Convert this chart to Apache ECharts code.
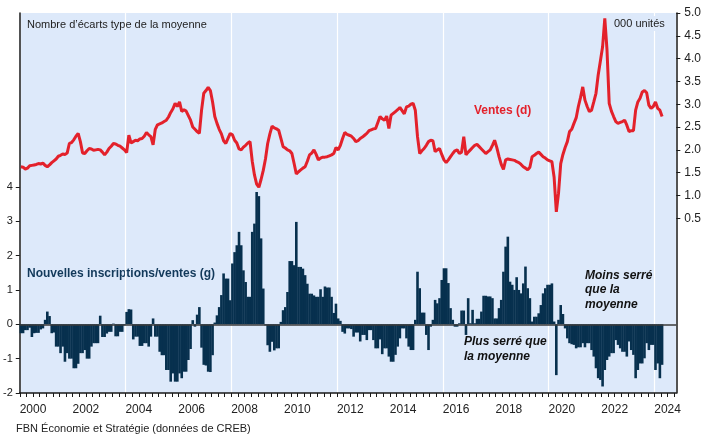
<!DOCTYPE html>
<html><head><meta charset="utf-8">
<script src="https://cdn.jsdelivr.net/npm/echarts@6/dist/echarts.min.js"></script>
<style>html,body{margin:0;padding:0;background:#fff}#c{width:704px;height:437px}</style>
</head><body><div id="c"></div>
<script>
// Monthly data, Jan 2000 - Apr 2024
const startYear = 2000;
const ventes = [
1.63,1.62,1.58,1.60,1.65,1.66,1.67,1.68,1.70,1.69,1.71,1.66,
1.63,1.67,1.72,1.76,1.80,1.86,1.88,1.91,1.90,1.93,2.14,2.16,
2.22,2.30,2.36,2.18,1.93,1.92,1.98,2.03,2.02,1.99,2.00,2.01,
2.00,1.95,1.89,1.95,2.03,2.08,2.14,2.13,2.10,2.08,2.04,2.00,
1.94,2.32,2.15,2.18,2.21,2.20,2.24,2.25,2.30,2.38,2.33,2.29,
2.11,2.45,2.55,2.57,2.59,2.62,2.65,2.72,2.82,2.90,3.02,2.95,
3.05,2.84,2.88,2.85,2.75,2.65,2.50,2.45,2.40,2.36,2.87,3.24,
3.30,3.37,3.30,3.05,2.73,2.58,2.45,2.35,2.20,2.14,2.25,2.36,
2.33,2.21,2.15,2.02,2.00,2.06,2.10,2.15,2.18,1.75,1.45,1.25,
1.18,1.35,1.55,1.80,2.14,2.35,2.52,2.48,2.46,2.43,2.25,2.07,
2.04,2.00,1.98,1.92,1.70,1.47,1.52,1.56,1.60,1.63,1.75,1.89,
1.93,2.00,1.90,1.78,1.82,1.84,1.84,1.85,1.87,1.89,1.92,2.05,
2.00,2.10,2.25,2.38,2.34,2.32,2.30,2.25,2.18,2.20,2.25,2.28,
2.32,2.36,2.42,2.44,2.46,2.47,2.60,2.73,2.68,2.65,2.74,2.47,
2.76,2.80,2.84,2.88,2.93,2.86,2.79,2.94,2.96,3.00,3.02,2.87,
2.29,1.92,1.98,2.03,2.10,2.18,2.21,2.20,1.96,2.00,2.03,1.90,
1.78,1.72,1.78,1.85,1.92,1.98,2.00,1.92,1.95,2.29,1.89,1.95,
2.00,2.05,2.10,2.12,2.07,2.02,1.97,1.92,1.96,2.00,2.10,2.21,
2.05,1.85,1.68,1.57,1.78,1.80,1.79,1.78,1.77,1.74,1.72,1.68,
1.63,1.60,1.56,1.62,1.85,1.88,1.92,1.95,1.90,1.85,1.82,1.78,
1.76,1.74,1.40,0.64,1.05,1.70,1.90,2.05,2.18,2.40,2.45,2.58,
2.70,2.95,3.15,3.38,3.09,2.95,2.84,2.87,3.05,3.24,3.64,3.95,
4.26,4.88,4.19,3.02,2.85,2.73,2.62,2.58,2.60,2.62,2.65,2.54,
2.40,2.42,2.42,2.87,3.05,3.13,3.27,3.30,3.25,2.98,2.91,2.95,
3.05,2.91,2.87,2.73
];
const ratio = [
-0.26,-0.26,-0.17,-0.17,-0.10,-0.37,-0.26,-0.25,-0.25,-0.15,-0.12,0.13,
0.37,0.24,-0.26,-0.24,-0.65,-0.65,-0.84,-0.65,-1.09,-0.84,-1.00,-1.00,
-1.28,-1.28,-1.15,-0.84,-0.84,-0.75,-1.00,-1.00,-0.65,-0.55,-0.55,-0.55,
0.25,-0.37,-0.37,-0.27,-0.22,-0.22,0.02,-0.35,-0.35,-0.22,-0.22,-0.03,
0.36,0.44,0.43,-0.44,-0.36,-0.36,-0.63,-0.63,-0.55,-0.55,-0.65,-0.36,
0.17,-0.36,-0.36,-0.80,-0.90,-0.90,-1.33,-1.33,-1.67,-1.43,-1.67,-1.67,
-1.43,-1.57,-1.38,-1.38,-1.04,-0.72,0.12,-0.07,0.28,0.50,-0.68,-1.18,
-1.20,-1.38,-1.39,-0.90,0.05,0.26,0.50,0.85,1.48,1.33,1.33,0.70,
1.77,2.10,2.30,2.69,2.30,1.57,1.23,0.80,0.80,2.69,2.93,3.85,
3.73,2.50,1.04,-0.03,-0.61,-0.80,-0.51,-0.76,-0.70,-0.70,0.07,0.41,
0.50,0.94,1.84,1.84,1.72,2.98,1.67,1.67,1.62,1.43,1.18,0.89,
0.89,0.84,0.80,0.80,1.02,0.80,1.10,1.07,1.07,0.80,0.33,0.60,
0.17,0.10,-0.22,-0.27,-0.12,-0.12,-0.14,-0.36,-0.24,-0.24,-0.50,-0.31,
-0.31,-0.46,-0.17,-0.17,-0.46,-0.70,-0.70,-0.44,-0.87,-0.70,-0.70,-0.94,
-1.09,-1.09,-0.89,-0.65,-0.41,-0.12,-0.12,-0.41,-0.65,-0.75,-0.75,0.13,
1.53,1.05,0.34,0.34,-0.31,-0.75,-0.07,0.13,0.71,0.61,0.76,1.29,
1.63,1.63,1.20,0.47,0.13,-0.07,-0.07,0.03,0.40,0.40,-0.31,0.76,
0.03,0.42,0.03,0.16,0.16,0.37,0.83,0.83,0.81,0.81,0.76,0.17,
0.17,0.47,0.71,1.53,2.26,2.55,1.24,1.15,1.00,1.37,1.00,0.90,
1.19,1.68,1.05,0.76,0.08,0.22,0.22,0.32,0.56,0.90,1.05,1.15,
1.15,1.19,0.08,-1.48,0.13,0.56,0.30,-0.12,-0.41,-0.55,-0.58,-0.60,
-0.70,-0.67,-0.67,-0.55,-0.67,-0.55,-0.55,-0.75,-0.94,-1.28,-1.57,-1.62,
-1.81,-1.33,-1.04,-0.94,-0.84,-0.84,-0.46,-0.60,-0.70,-0.80,-0.80,-0.94,
-0.50,-0.75,-0.89,-1.57,-1.33,-1.14,-1.14,-0.99,-0.55,-0.75,-0.60,-0.60,
-1.33,-1.14,-1.57,-1.18
];
const yearLabels = [2000,2002,2004,2006,2008,2010,2012,2014,2016,2018,2020,2022,2024];
const leftTicks = [-2,-1,0,1,2,3,4];
const rightTicks = [0.5,1.0,1.5,2.0,2.5,3.0,3.5,4.0,4.5,5.0];

const FONT = "'Liberation Sans', Arial, sans-serif";
const BG = '#dde9fa';
const monthX = i => startYear + (i + 0.5) / 12;
const quarterTicks = [];
for (let q = 2000; q <= 2024.76; q += 0.25) quarterTicks.push(q);

const chart = echarts.init(document.getElementById('c'));
chart.setOption({
  animation: false,
  backgroundColor: '#ffffff',
  grid: { left: 19, right: 26, top: 13, bottom: 44, show: true, backgroundColor: BG, borderWidth: 0 },
  xAxis: [{
    type: 'value', min: 2000, max: 2024.83, position: 'bottom',
    axisLine: { onZero: false, lineStyle: { color: '#1a1a1a', width: 1.5 } },
    axisTick: { customValues: quarterTicks, length: 4, lineStyle: { color: '#1a1a1a', width: 1 } },
    axisLabel: { customValues: yearLabels.map(y => y + 0.5), formatter: v => String(Math.floor(v)),
      fontFamily: FONT, fontSize: 12, color: '#222', margin: 11 },
    splitLine: { show: false }
  }, {
    type: 'value', min: 2000, max: 2024.83, interval: 4, position: 'top',
    axisLine: { show: false }, axisTick: { show: false }, axisLabel: { show: false },
    splitLine: { show: true, lineStyle: { color: '#ffffff', width: 1.2 } }
  }],
  yAxis: [{
    type: 'value', min: -2, max: 9.06, position: 'left',
    axisLine: { show: true, lineStyle: { color: '#1a1a1a', width: 1.5 } },
    axisTick: { show: true, customValues: leftTicks, length: 4, lineStyle: { color: '#1a1a1a' } },
    axisLabel: { customValues: leftTicks, fontFamily: FONT, fontSize: 11, color: '#222', margin: 7 },
    splitLine: { show: false }
  }, {
    type: 'value', min: -3.33, max: 5, position: 'right',
    axisLine: { show: true, lineStyle: { color: '#1a1a1a', width: 1.5 } },
    axisTick: { show: true, customValues: rightTicks, length: 4, lineStyle: { color: '#1a1a1a' } },
    axisLabel: { customValues: rightTicks, formatter: v => v.toFixed(1), fontFamily: FONT, fontSize: 12, color: '#222', margin: 8 },
    splitLine: { show: false }
  }],
  series: [{
    type: 'bar', xAxisIndex: 0, yAxisIndex: 0, barWidth: 2.6, z: 2,
    itemStyle: { color: '#07304e' },
    data: ratio.map((v, i) => [monthX(i), v]),
    markLine: {
      silent: true, symbol: 'none', label: { show: false },
      lineStyle: { color: '#3a3a3a', width: 1.5, type: 'solid' },
      data: [{ yAxis: 0 }]
    }
  }, {
    type: 'line', xAxisIndex: 0, yAxisIndex: 1, symbol: 'none', z: 5,
    lineStyle: { color: '#e3212b', width: 3 },
    data: ventes.map((v, i) => [monthX(i), v])
  }],
  graphic: [
    { type: 'text', left: 27, top: 19, style: { text: 'Nombre d’écarts type de la moyenne', font: '11px ' + FONT, fill: '#222' } },
    { type: 'text', left: 612, top: 16, z: 10, style: { text: '000 unités', font: '11px ' + FONT, fill: '#222', backgroundColor: BG, padding: [2, 2, 2, 2] } },
    { type: 'text', left: 474, top: 105, style: { text: 'Ventes (d)', font: 'bold 12px ' + FONT, fill: '#e3212b' } },
    { type: 'text', left: 27, top: 268, style: { text: 'Nouvelles inscriptions/ventes (g)', font: 'bold 12px ' + FONT, fill: '#12395a' } },
    { type: 'text', left: 585, top: 268, style: { text: 'Moins serré\nque la\nmoyenne', font: 'italic bold 12px ' + FONT, fill: '#111', lineHeight: 14.5 } },
    { type: 'text', left: 464, top: 334, style: { text: 'Plus serré que\nla moyenne', font: 'italic bold 12px ' + FONT, fill: '#111', lineHeight: 15 } },
    { type: 'text', left: 16, top: 423, style: { text: 'FBN Économie et Stratégie (données de CREB)', font: '11px ' + FONT, fill: '#222' } }
  ]
});
</script>
</body></html>
